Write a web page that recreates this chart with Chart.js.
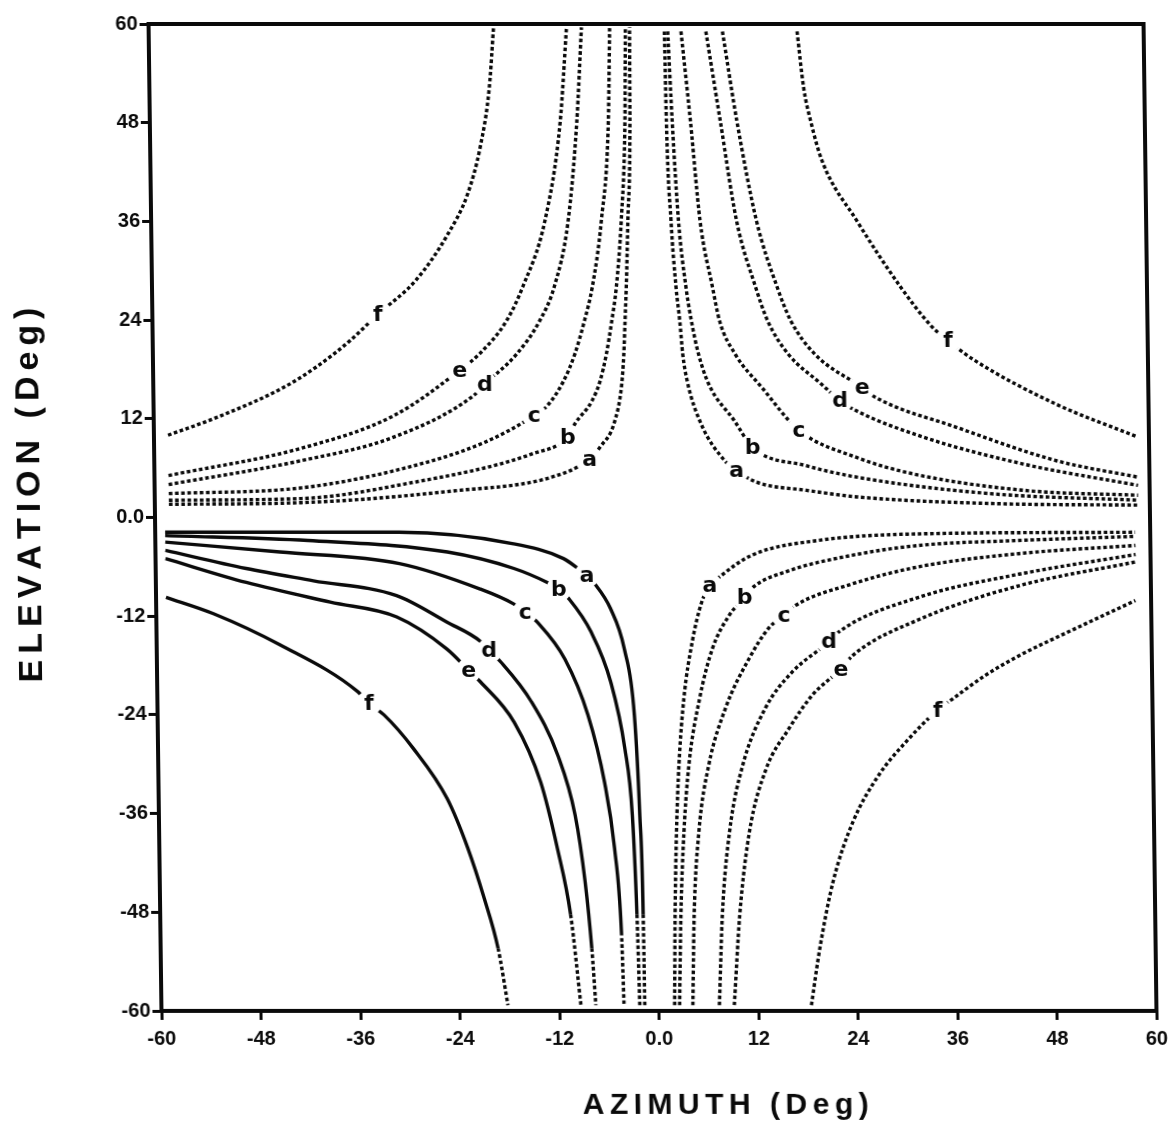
<!DOCTYPE html>
<html><head><meta charset="utf-8">
<script src="https://cdn.jsdelivr.net/npm/chart.js@4/dist/chart.umd.min.js"></script>
<style>
html,body{margin:0;padding:0;background:#fff;overflow:hidden;}
#wrap{width:1169px;height:1141px;}
#c{transform:skewX(0.75deg);transform-origin:0 517px;}
</style>
</head><body><div id="wrap"><canvas id="c" width="1169" height="1141"></canvas></div>
<script>
// ---- axis ticks ----
const X_TICKS = [-60,-48,-36,-24,-12,0,12,24,36,48,60];
const Y_TICKS = [-60,-48,-36,-24,-12,0,12,24,36,48,60];
const CURVE_NAMES = ['a','b','c','d','e','f'];

// ---- upper-left quadrant curves [azimuth, elevation] ----
const ulA = [[-58.3,1.6],[-42.3,1.8],[-24.2,3.2],[-12.1,4.9],[-7.5,7.1],[-6.1,8.7],[-4.5,11.4],[-3.5,16.2],[-3.2,19.9],[-3.0,23.9],[-2.8,28.0],[-2.5,36.1],[-2.1,48.2],[-2.0,59.6]];
const ulB = [[-58.3,2.1],[-42.3,2.3],[-30.2,4.0],[-14.2,7.8],[-10.1,9.8],[-9.2,11.4],[-7.1,14.2],[-6.1,16.6],[-5.3,19.9],[-4.6,23.9],[-4.0,28.0],[-3.3,36.1],[-2.7,48.2],[-2.5,59.6]];
const ulC = [[-58.3,2.9],[-42.3,3.6],[-30.2,5.9],[-20.2,9.1],[-14.1,12.4],[-12.5,13.6],[-10.5,16.6],[-9.1,19.9],[-7.9,23.9],[-6.9,28.0],[-5.7,36.1],[-4.7,48.2],[-4.4,59.6]];
const ulD = [[-58.3,4.0],[-42.3,6.9],[-31.0,9.8],[-21.4,14.8],[-20.0,16.2],[-16.1,19.9],[-13.3,23.9],[-11.5,28.0],[-9.7,36.1],[-8.5,48.2],[-7.8,59.6]];
const ulE = [[-58.3,5.1],[-42.3,8.4],[-31.0,12.4],[-23.0,17.9],[-20.6,19.9],[-17.3,23.9],[-15.3,28.0],[-12.5,36.1],[-10.5,48.2],[-9.6,59.6]];
const ulF = [[-58.3,10.0],[-52.3,12.2],[-44.3,15.8],[-40.3,18.3],[-36.2,21.5],[-32.8,24.7],[-28.2,28.8],[-24.2,34.5],[-21.8,39.3],[-20.2,45.0],[-19.0,52.3],[-18.4,59.6]];

// ---- upper-right quadrant ----
const urA = [[2.2,59.1],[2.3,48.2],[2.7,36.1],[3.2,28.0],[3.6,23.9],[3.9,19.9],[4.4,16.6],[6.0,11.4],[8.8,6.9],[10.2,5.7],[12.6,4.3],[18.6,3.3],[24.7,2.5],[40.7,1.7],[58.6,1.5]];
const urB = [[2.6,59.1],[3.0,48.2],[3.6,36.1],[4.4,28.0],[5.0,23.9],[5.8,19.9],[7.0,16.2],[10.0,11.8],[12.2,8.5],[18.6,6.3],[24.7,4.9],[40.7,2.9],[58.6,2.1]];
const urC = [[4.2,59.1],[5.2,48.2],[6.2,36.1],[7.6,28.0],[8.4,23.9],[10.2,19.9],[13.4,15.8],[17.8,10.6],[24.7,7.3],[31.5,5.3],[44.8,3.3],[58.6,2.7]];
const urD = [[7.2,59.1],[8.8,48.2],[10.6,36.1],[12.8,28.0],[14.2,23.9],[16.6,19.9],[20.6,16.2],[22.8,14.2],[24.7,13.0],[32.7,9.8],[44.8,6.5],[58.6,3.9]];
const urE = [[9.2,59.1],[10.8,48.2],[13.0,36.1],[15.4,28.0],[17.0,23.9],[19.8,19.9],[25.5,15.8],[27.1,14.6],[36.7,11.0],[48.8,6.9],[58.6,4.9]];
const urF = [[18.2,59.1],[18.9,52.3],[19.7,48.2],[21.0,43.4],[25.1,36.1],[30.3,28.0],[33.9,23.3],[35.9,21.5],[39.1,19.1],[48.8,13.8],[58.6,9.8]];

// ---- lower-left quadrant ----
const llA = [[-58.8,-1.8],[-30.6,-1.8],[-16.8,-3.2],[-10.8,-5.0],[-8.8,-6.4],[-8.0,-7.0],[-7.2,-7.9],[-5.2,-11.1],[-3.6,-16.0],[-2.5,-24.0],[-2.0,-36.2],[-1.75,-48.3],[-1.7,-59.3]];
const llB = [[-58.8,-2.2],[-41.6,-2.8],[-24.8,-4.2],[-16.8,-6.2],[-12.8,-7.9],[-11.4,-8.7],[-10.2,-9.9],[-7.6,-13.9],[-5.3,-20.0],[-3.7,-28.1],[-2.9,-36.2],[-2.5,-48.3],[-2.3,-59.3]];
const llC = [[-58.8,-3.0],[-45.0,-4.2],[-30.6,-5.6],[-20.9,-8.7],[-16.9,-10.5],[-15.5,-11.5],[-13.9,-12.9],[-10.8,-17.2],[-8.1,-24.0],[-6.2,-32.2],[-5.1,-40.2],[-4.4,-50.4],[-4.2,-59.3]];
const llD = [[-58.8,-4.0],[-49.1,-6.2],[-41.0,-7.7],[-31.0,-9.5],[-25.0,-12.7],[-20.9,-15.1],[-19.9,-16.2],[-18.5,-17.6],[-14.9,-22.4],[-11.8,-28.9],[-9.8,-36.2],[-8.7,-44.3],[-8.0,-52.4],[-7.6,-59.3]];
const llE = [[-58.8,-5.0],[-49.1,-7.9],[-39.0,-10.3],[-31.0,-12.1],[-25.0,-16.0],[-22.4,-18.6],[-21.0,-20.0],[-17.0,-24.9],[-13.9,-32.2],[-12.0,-40.2],[-10.5,-48.3],[-9.4,-59.3]];
const llF = [[-58.8,-9.7],[-53.1,-11.7],[-45.1,-15.5],[-35.8,-21.2],[-34.5,-22.6],[-32.7,-24.0],[-29.2,-28.1],[-25.2,-34.2],[-22.8,-40.2],[-20.9,-46.3],[-19.3,-52.4],[-18.2,-59.3]];

// ---- lower-right quadrant ----
const lrA = [[1.9,-59.3],[2.1,-48.3],[2.4,-38.2],[2.8,-30.1],[3.5,-22.0],[4.6,-15.1],[5.8,-10.3],[6.8,-8.3],[7.9,-7.3],[11.9,-4.6],[19.9,-2.8],[32.0,-2.0],[58.2,-1.8]];
const lrB = [[2.5,-59.3],[2.8,-48.3],[3.3,-38.2],[4.0,-30.1],[5.4,-22.0],[7.0,-16.0],[9.1,-11.9],[11.0,-9.7],[12.0,-8.5],[16.0,-6.6],[24.0,-4.6],[32.1,-3.4],[44.1,-2.8],[58.2,-2.3]];
const lrC = [[4.1,-59.3],[4.4,-48.3],[5.1,-38.2],[6.4,-30.1],[8.5,-23.2],[11.4,-17.2],[13.8,-13.5],[15.7,-11.9],[17.1,-10.7],[23.9,-8.1],[32.0,-6.0],[44.1,-4.4],[58.2,-3.4]];
const lrD = [[7.3,-59.3],[7.8,-48.3],[8.8,-38.2],[10.5,-30.1],[13.3,-23.2],[16.6,-18.8],[21.1,-15.1],[22.3,-13.9],[32.0,-9.7],[44.1,-6.9],[58.2,-4.5]];
const lrE = [[9.1,-59.3],[9.9,-48.3],[11.2,-38.2],[13.3,-30.6],[16.1,-25.7],[19.0,-21.6],[22.5,-18.4],[23.9,-16.8],[32.0,-12.4],[44.1,-8.3],[58.2,-5.4]];
const lrF = [[18.4,-59.3],[19.5,-52.4],[21.2,-44.3],[23.7,-37.0],[26.9,-31.3],[30.2,-27.3],[34.1,-23.4],[36.0,-22.0],[39.9,-19.2],[44.0,-16.8],[50.0,-13.9],[58.1,-10.1]];

// ---- curve label positions [letter, azimuth, elevation] ----
const ulLabels = [['a',-7.5,7.1],['b',-10.1,9.8],['c',-14.1,12.4],['d',-20.0,16.2],['e',-23.0,17.9],['f',-32.8,24.7]];
const urLabels = [['a',10.2,5.7],['b',12.2,8.5],['c',17.8,10.6],['d',22.8,14.2],['e',25.5,15.8],['f',35.9,21.5]];
const llLabels = [['a',-8.0,-7.0],['b',-11.4,-8.7],['c',-15.5,-11.5],['d',-19.9,-16.2],['e',-22.4,-18.6],['f',-34.5,-22.6]];
const lrLabels = [['a',6.8,-8.3],['b',11.0,-9.7],['c',15.7,-11.9],['d',21.1,-15.1],['e',22.5,-18.4],['f',34.1,-23.4]];

const X_TITLE = 'AZIMUTH (Deg)';
const Y_TITLE = 'ELEVATION (Deg)';

// ---- build datasets ----
const quadrants = [
  {curves:[ulA,ulB,ulC,ulD,ulE,ulF], solid:false},
  {curves:[urA,urB,urC,urD,urE,urF], solid:false},
  {curves:[llA,llB,llC,llD,llE,llF], solid:true},
  {curves:[lrA,lrB,lrC,lrD,lrE,lrF], solid:false}
];
const DOT = [3.6, 2.6];
const datasets = [];
quadrants.forEach((q, qi) => {
  q.curves.forEach((pts, ci) => {
    const ds = {
      label: ['UL','UR','LL','LR'][qi] + '-' + CURVE_NAMES[ci],
      data: pts.map(p => ({x: p[0], y: p[1]})),
      showLine: true,
      pointRadius: 0,
      borderColor: '#0a0a0a',
      borderWidth: 3.4,
      borderDash: q.solid ? [] : DOT,
      borderCapStyle: 'butt',
      cubicInterpolationMode: 'monotone',
      fill: false
    };
    if (q.solid) {
      ds.segment = { borderDash: ctx => (ctx.p0.parsed.y < -47 ? DOT : undefined) };
    }
    datasets.push(ds);
  });
});
const allLabels = [].concat(ulLabels, urLabels, llLabels, lrLabels);

const FONT = '"Liberation Sans", Arial, "DejaVu Sans", sans-serif';
const LFONT = '"DejaVu Sans", "Liberation Sans", sans-serif';

function drawSpaced(ctx, text, x, y, spacing) {
  let w = 0;
  for (const ch of text) w += ctx.measureText(ch).width + spacing;
  w -= spacing;
  let cx = x - w / 2;
  for (const ch of text) {
    ctx.fillText(ch, cx, y);
    cx += ctx.measureText(ch).width + spacing;
  }
}

const decorPlugin = {
  id: 'decor',
  afterDatasetsDraw(chart) {
    const {ctx, chartArea: a, scales} = chart;
    const xs = scales.x, ys = scales.y;
    ctx.save();
    ctx.font = 'bold 22px ' + LFONT;
    ctx.textAlign = 'center';
    ctx.textBaseline = 'middle';
    allLabels.forEach(([t, x, y]) => {
      const px = xs.getPixelForValue(x), py = ys.getPixelForValue(y);
      ctx.fillStyle = '#fff';
      ctx.beginPath();
      ctx.arc(px, py, 12.5, 0, Math.PI * 2);
      ctx.fill();
      ctx.fillStyle = '#0a0a0a';
      ctx.fillText(t, px, py + 1);
    });
    ctx.strokeStyle = '#0a0a0a';
    ctx.lineWidth = 4;
    ctx.beginPath();
    ctx.moveTo(a.left - 2, a.top);
    ctx.lineTo(a.right, a.top);
    ctx.lineTo(a.right, a.bottom + 2);
    ctx.stroke();
    ctx.restore();
  },
  afterDraw(chart) {
    const {ctx} = chart;
    ctx.save();
    ctx.fillStyle = '#0a0a0a';
    ctx.textBaseline = 'middle';
    ctx.textAlign = 'left';
    ctx.font = 'bold 30px ' + FONT;
    drawSpaced(ctx, X_TITLE, 718, 1106, 5.5);
    ctx.translate(31, 495);
    ctx.rotate(-Math.PI / 2);
    ctx.font = 'bold 34px ' + FONT;
    drawSpaced(ctx, Y_TITLE, 0, 0, 6);
    ctx.restore();
  }
};

const tickFmt = v => (v === 0 ? '0.0' : String(v));
function axis(ticksArr, isX) {
  return {
    type: 'linear',
    min: -60, max: 60,
    afterBuildTicks: s => { s.ticks = ticksArr.map(v => ({value: v})); },
    afterFit: s => { if (isX) s.height = 130; else s.width = 155; },
    ticks: {
      color: '#0a0a0a',
      font: {family: FONT, size: 20, weight: 'bold'},
      padding: isX ? 7 : 2,
      callback: tickFmt,
      maxRotation: 0, autoSkip: false
    },
    grid: {display: true, drawOnChartArea: false, drawTicks: true, tickLength: 9, tickWidth: 3, tickColor: '#0a0a0a'},
    border: {display: true, width: 4, color: '#0a0a0a'}
  };
}

new Chart(document.getElementById('c'), {
  type: 'scatter',
  data: {datasets},
  options: {
    responsive: false,
    devicePixelRatio: 1,
    animation: false,
    layout: {padding: {top: 24, right: 19, left: 0, bottom: 0}},
    plugins: {legend: {display: false}, tooltip: {enabled: false}},
    scales: {x: axis(X_TICKS, true), y: axis(Y_TICKS, false)}
  },
  plugins: [decorPlugin]
});
</script>
</body></html>
